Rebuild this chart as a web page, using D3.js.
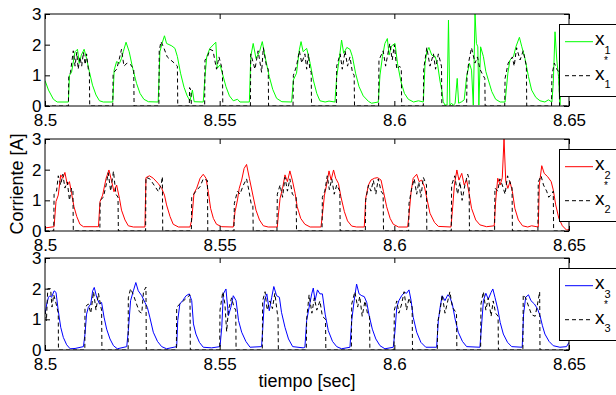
<!DOCTYPE html>
<html>
<head>
<meta charset="utf-8">
<script src="https://cdn.jsdelivr.net/npm/d3@7"></script>
<style>
  body { margin: 0; background: #fff; }
  svg { display: block; font-family: "Liberation Sans", Arial, sans-serif; }
</style>
</head>
<body>
<svg id="chart" width="616" height="395"></svg>
<script>
// measured phase currents (solid) and references (dashed), [time s, current A]
const x1 = [[8.5000,0.83],[8.5010,0.52],[8.5024,0.22],[8.5035,0.13],[8.5067,0.13],[8.5070,1.0],[8.5076,1.1],[8.5086,1.77],[8.5093,1.85],[8.5098,1.39],[8.5104,1.66],[8.5112,1.85],[8.5119,1.55],[8.5127,1.12],[8.5136,0.68],[8.5146,0.36],[8.5156,0.17],[8.5167,0.13],[8.5194,0.13],
  [8.5198,1.17],[8.5205,1.45],[8.5213,1.39],[8.5219,1.55],[8.5224,1.77],[8.5232,2.08],[8.5241,1.77],[8.5251,1.23],[8.5262,0.74],[8.5272,0.41],[8.5283,0.22],[8.5296,0.14],[8.5324,0.13],
  [8.5329,1.77],[8.5335,2.04],[8.5342,2.29],[8.5348,2.04],[8.5363,1.96],[8.5372,1.88],[8.5379,1.61],[8.5388,1.07],[8.5398,0.61],[8.5407,0.33],[8.5415,0.17],[8.5422,0.52],[8.5427,0.14],[8.5453,0.13],
  [8.5458,0.96],[8.5463,1.61],[8.5472,1.88],[8.5489,2.08],[8.5493,1.23],[8.5501,1.34],[8.5509,1.01],[8.5518,0.63],[8.5528,0.33],[8.5539,0.17],[8.5551,0.22],[8.5558,0.13],[8.5585,0.13],
  [8.5589,1.61],[8.5596,2.04],[8.5604,1.55],[8.5614,1.77],[8.5622,2.10],[8.5632,1.5],[8.5642,0.96],[8.5652,0.54],[8.5663,0.25],[8.5678,0.14],[8.5706,0.13],
  [8.5711,0.85],[8.5720,1.07],[8.5728,1.83],[8.5733,2.1],[8.5739,1.77],[8.5749,1.88],[8.5755,1.6],[8.5759,1.39],[8.5768,0.85],[8.5778,0.41],[8.5787,0.17],[8.5802,0.13],[8.5813,0.16],[8.5830,0.13],
  [8.5835,0.96],[8.5842,1.5],[8.5849,2.15],[8.5855,1.72],[8.5864,1.91],[8.5873,1.85],[8.5880,1.61],[8.5889,1.07],[8.5899,0.63],[8.5911,0.33],[8.5926,0.15],[8.5935,0.09],[8.5954,0.13],
  [8.5959,1.01],[8.5966,1.61],[8.5973,2.04],[8.5980,2.2],[8.5985,1.66],[8.5992,1.96],[8.6002,2.04],[8.6009,1.39],[8.6019,0.79],[8.6029,0.41],[8.6040,0.22],[8.6055,0.13],[8.6069,0.17],[8.6083,0.13],
  [8.6088,1.39],[8.6093,1.77],[8.6099,1.91],[8.6107,1.66],[8.6117,1.61],[8.6124,1.34],[8.6131,0.79],[8.6136,0.52],[8.6140,0.14],[8.6145,0.03],[8.6151,0.03],[8.6155,2.8],[8.6159,0.03],[8.6164,0.09],[8.6169,0.02],[8.6174,0.09],[8.6180,0.9],[8.6184,0.09],[8.6193,0.14],[8.6200,0.2],
  [8.6207,0.96],[8.6215,1.39],[8.6221,1.17],[8.6226,0.03],[8.6231,3.0],[8.6235,2.04],[8.6239,1.93],[8.6242,0.03],[8.6247,1.93],[8.6255,1.61],[8.6262,1.12],[8.6269,0.85],[8.6279,0.47],[8.6290,0.22],[8.6303,0.13],[8.6317,0.13],
  [8.6325,1.07],[8.6331,1.5],[8.6341,1.61],[8.6348,1.93],[8.6358,2.24],[8.6365,1.93],[8.6374,1.55],[8.6384,0.96],[8.6393,0.52],[8.6405,0.28],[8.6417,0.17],[8.6431,0.13],[8.6441,0.2],[8.6451,0.13],
  [8.6455,0.74],[8.6460,2.42],[8.6465,1.5],[8.6470,0.96],[8.6474,0.03],[8.6480,1.3],[8.6490,1.0],[8.6500,0.8]];

const x1ref = [[8.5000,0],[8.5067,0],[8.5068,0.95],[8.5073,1.1],[8.5081,1.8],[8.5086,1.3],[8.5091,1.75],[8.5095,1.2],[8.5100,1.6],[8.5105,1.3],[8.5110,1.75],[8.5115,1.35],[8.5119,1.7],[8.5124,1.2],[8.5127,1.1],[8.5128,0],
  [8.5194,0],[8.5195,1.07],[8.5205,1.2],[8.5212,1.5],[8.5219,1.85],[8.5226,1.3],[8.5235,1.4],[8.5245,1.35],[8.5254,1.2],[8.5255,0],
  [8.5326,0],[8.5327,1.8],[8.5332,2.1],[8.5340,1.9],[8.5350,1.6],[8.5360,1.5],[8.5370,1.4],[8.5379,1.3],[8.5380,0],[8.5413,0],[8.5414,0.6],[8.5418,0.5],[8.5419,0],
  [8.5457,0],[8.5458,1.5],[8.5465,1.6],[8.5472,1.85],[8.5481,1.8],[8.5491,1.2],[8.5498,1.6],[8.5505,1.3],[8.5508,1.1],[8.5509,0],
  [8.5588,0],[8.5589,1.7],[8.5601,1.2],[8.5610,1.8],[8.5620,1.1],[8.5625,1.9],[8.5634,1.3],[8.5639,1.2],[8.5640,0],
  [8.5710,0],[8.5711,1.0],[8.5720,1.3],[8.5728,1.8],[8.5735,1.4],[8.5744,1.7],[8.5749,1.2],[8.5754,1.7],[8.5758,1.2],[8.5762,1.1],[8.5763,0],
  [8.5834,0],[8.5835,1.3],[8.5845,1.7],[8.5851,1.2],[8.5859,1.8],[8.5866,1.3],[8.5873,1.6],[8.5880,1.1],[8.5885,1.0],[8.5886,0],
  [8.5955,0],[8.5956,1.5],[8.5968,1.8],[8.5975,1.3],[8.5987,2.04],[8.5994,1.5],[8.6000,2.0],[8.6007,1.2],[8.6015,1.3],[8.6020,1.2],[8.6021,0],
  [8.6083,0],[8.6084,1.2],[8.6093,1.9],[8.6102,1.3],[8.6112,1.7],[8.6118,1.2],[8.6126,1.7],[8.6135,1.3],[8.6136,0],
  [8.6207,0],[8.6208,1.0],[8.6214,1.5],[8.6221,1.9],[8.6231,1.4],[8.6238,1.6],[8.6245,1.2],[8.6254,1.0],[8.6259,0.9],[8.6260,0],
  [8.6316,0],[8.6317,0.9],[8.6326,1.4],[8.6338,1.6],[8.6343,1.3],[8.6350,1.9],[8.6360,1.5],[8.6369,1.8],[8.6378,1.3],[8.6379,0],
  [8.6450,0],[8.6451,1.0],[8.6458,1.4],[8.6465,1.2],[8.6472,1.1],[8.6473,0],[8.6500,0]];

const x2 = [[8.5000,0.1],[8.5026,0.14],[8.50315,0.96],[8.5038,1.17],[8.5045,1.83],[8.5051,1.72],[8.5057,1.91],[8.5064,1.5],[8.5070,1.61],[8.5076,1.23],[8.5083,0.79],[8.5091,0.47],[8.5100,0.22],[8.5110,0.14],[8.5153,0.14],
  [8.51575,0.96],[8.5165,1.17],[8.5175,1.72],[8.5183,1.99],[8.5191,1.61],[8.51975,1.28],[8.5205,1.5],[8.5213,1.07],[8.5219,0.68],[8.5229,0.36],[8.52385,0.17],[8.5253,0.13],[8.5286,0.13],
  [8.5289,1.74],[8.5299,1.8],[8.5310,1.72],[8.5324,1.55],[8.5334,1.39],[8.5342,1.17],[8.5348,0.85],[8.5358,0.47],[8.5367,0.22],[8.5382,0.13],[8.5415,0.13],
  [8.5420,0.36],[8.54265,1.23],[8.5434,1.39],[8.5444,1.72],[8.5453,1.85],[8.5461,1.72],[8.5468,1.23],[8.5474,0.74],[8.5482,0.41],[8.5491,0.22],[8.5506,0.14],[8.5539,0.13],
  [8.5544,0.63],[8.5551,1.01],[8.5556,1.39],[8.5563,1.66],[8.5570,2.04],[8.5577,2.17],[8.5585,1.72],[8.5595,1.17],[8.5604,0.68],[8.5614,0.36],[8.5625,0.17],[8.5639,0.13],[8.5665,0.13],
  [8.5668,0.52],[8.5673,1.07],[8.5680,1.39],[8.5687,1.83],[8.5694,1.61],[8.5701,1.96],[8.5708,1.66],[8.5716,1.23],[8.5722,0.79],[8.5732,0.41],[8.5744,0.22],[8.5759,0.13],[8.5790,0.13],
  [8.5794,0.52],[8.5800,1.17],[8.5806,1.5],[8.5813,1.96],[8.5819,1.66],[8.5826,1.99],[8.5832,1.72],[8.5840,1.55],[8.5847,1.12],[8.5857,0.63],[8.5866,0.33],[8.5878,0.16],[8.5892,0.13],[8.5914,0.13],
  [8.5918,1.07],[8.5926,1.5],[8.5933,1.66],[8.5943,1.72],[8.5952,1.74],[8.5962,1.66],[8.5969,1.28],[8.5978,0.79],[8.5988,0.41],[8.5997,0.22],[8.6012,0.13],[8.6038,0.13],
  [8.6042,0.52],[8.6048,1.28],[8.6054,1.72],[8.6064,1.85],[8.6071,1.61],[8.6078,1.66],[8.6086,1.45],[8.6093,1.07],[8.6102,0.58],[8.6115,0.28],[8.6126,0.15],[8.6162,0.13],
  [8.6166,0.63],[8.6172,1.5],[8.6179,1.99],[8.6185,1.66],[8.6193,1.88],[8.6200,1.5],[8.6207,1.66],[8.6214,1.23],[8.6221,0.74],[8.6233,0.36],[8.6245,0.2],[8.6264,0.14],[8.6286,0.17],
  [8.6290,0.96],[8.6296,1.72],[8.6303,1.5],[8.6309,1.74],[8.6314,3.0],[8.6319,1.61],[8.6325,1.39],[8.6331,1.61],[8.6338,1.28],[8.6345,0.74],[8.6355,0.36],[8.6367,0.17],[8.6382,0.13],[8.6393,0.17],[8.6412,0.13],
  [8.6415,1.5],[8.6422,2.13],[8.6429,1.88],[8.6439,1.77],[8.6449,1.61],[8.6455,1.34],[8.6462,0.85],[8.6471,0.41],[8.6481,0.17],[8.6493,0.03],[8.6500,0.05]];

const x2ref = [[8.5000,0],[8.5025,0],[8.5026,1.2],[8.5033,1.3],[8.5038,1.8],[8.5045,1.5],[8.5051,1.85],[8.5057,1.4],[8.5064,1.6],[8.5070,1.0],[8.5076,1.4],[8.5080,1.3],[8.5081,0],
  [8.5157,0],[8.5158,1.0],[8.5167,1.1],[8.5175,1.5],[8.5181,1.9],[8.5188,1.3],[8.5196,1.95],[8.5203,1.2],[8.5209,1.1],[8.5210,0],
  [8.5288,0],[8.5289,1.75],[8.5300,1.7],[8.5315,1.45],[8.5325,1.28],[8.5333,1.55],[8.5336,1.77],[8.5337,0],
  [8.5419,0],[8.5420,1.1],[8.5432,1.3],[8.5444,1.45],[8.5453,1.7],[8.5465,1.65],[8.5466,0],
  [8.5541,0],[8.5542,0.9],[8.5551,1.3],[8.5558,1.2],[8.5568,1.5],[8.5577,1.7],[8.5584,1.3],[8.5590,0.9],[8.5595,0.85],[8.5596,0],
  [8.5664,0],[8.5665,1.2],[8.5673,1.5],[8.5680,1.1],[8.5687,1.75],[8.5694,1.3],[8.5701,1.7],[8.5708,1.2],[8.5719,1.1],[8.5720,0],
  [8.5793,0],[8.5794,1.1],[8.5801,1.3],[8.5808,1.8],[8.5814,1.35],[8.5821,1.7],[8.5828,1.2],[8.5835,1.5],[8.5844,1.3],[8.5845,0],
  [8.5917,0],[8.5918,1.0],[8.5926,1.5],[8.5933,1.3],[8.5940,1.65],[8.5947,1.2],[8.5954,1.7],[8.5962,1.3],[8.5968,1.2],[8.5969,0],
  [8.6041,0],[8.6042,0.9],[8.6050,1.4],[8.6057,1.7],[8.6064,1.2],[8.6070,1.6],[8.6076,1.1],[8.6083,1.75],[8.6092,1.5],[8.6093,0],
  [8.6163,0],[8.6164,1.5],[8.6173,1.8],[8.6181,1.2],[8.6188,1.6],[8.6194,1.0],[8.6202,1.5],[8.6210,1.85],[8.6214,1.7],[8.6215,0],
  [8.6287,0],[8.6288,1.4],[8.6296,1.3],[8.6302,1.7],[8.6309,1.5],[8.6317,1.2],[8.6324,1.8],[8.6331,1.6],[8.6337,1.4],[8.6338,0],
  [8.6411,0],[8.6412,1.6],[8.6420,1.8],[8.6427,1.5],[8.6436,1.3],[8.6442,1.1],[8.6450,1.2],[8.6455,1.3],[8.6456,0],[8.6500,0]];

const x3 = [[8.5000,1.17],[8.5005,1.5],[8.5010,1.72],[8.5014,1.77],[8.5019,1.72],[8.5026,1.93],[8.50315,1.88],[8.5038,1.28],[8.5045,0.74],[8.50525,0.41],[8.5062,0.17],[8.5072,0.04],[8.5086,0.05],[8.5110,0.11],
  [8.51145,0.52],[8.5119,1.17],[8.5124,1.39],[8.5131,1.5],[8.51365,1.93],[8.5141,2.04],[8.5148,1.72],[8.5156,1.5],[8.5162,1.55],[8.5169,1.07],[8.51765,0.68],[8.5186,0.36],[8.5196,0.14],[8.5207,0.04],[8.5234,0.11],
  [8.52385,0.63],[8.5245,1.61],[8.5253,1.93],[8.5260,2.2],[8.5267,1.93],[8.5277,1.77],[8.5286,1.55],[8.5293,1.39],[8.5300,1.07],[8.5310,0.58],[8.5322,0.28],[8.5334,0.11],[8.5348,0.04],[8.5377,0.11],
  [8.5380,0.96],[8.5386,1.5],[8.5394,1.61],[8.5404,1.77],[8.5413,1.83],[8.5420,1.61],[8.5425,0.85],[8.5432,0.52],[8.5442,0.25],[8.5453,0.09],[8.5477,0.07],[8.5501,0.11],
  [8.5506,0.74],[8.55105,1.83],[8.5518,1.99],[8.5525,1.12],[8.5532,1.39],[8.5539,1.77],[8.5547,1.61],[8.5554,0.96],[8.5563,0.58],[8.5575,0.28],[8.5587,0.09],[8.5620,0.11],
  [8.5623,0.63],[8.5628,1.61],[8.5635,1.83],[8.5642,1.28],[8.5649,1.72],[8.5655,2.07],[8.5663,1.77],[8.5671,1.72],[8.5677,1.23],[8.5687,0.74],[8.5697,0.36],[8.5709,0.11],[8.5739,0.07],[8.5744,0.09],
  [8.5749,0.96],[8.5756,1.39],[8.57635,1.83],[8.5768,2.02],[8.5773,1.61],[8.5780,1.96],[8.5787,1.83],[8.5794,1.83],[8.5802,1.17],[8.5811,0.63],[8.5823,0.28],[8.5835,0.11],[8.5849,0.04],[8.5873,0.09],
  [8.5878,0.96],[8.5885,1.61],[8.5892,2.15],[8.5899,1.83],[8.5907,1.77],[8.5914,1.74],[8.5921,1.55],[8.5928,1.12],[8.5937,0.68],[8.5947,0.36],[8.5959,0.14],[8.5973,0.04],[8.5997,0.09],
  [8.6002,0.63],[8.6007,1.39],[8.6013,1.61],[8.6021,1.77],[8.6029,1.88],[8.6035,1.85],[8.6042,1.96],[8.6048,1.61],[8.6054,1.07],[8.6064,0.58],[8.6076,0.25],[8.6090,0.09],[8.6121,0.09],
  [8.6126,0.96],[8.6131,1.39],[8.6137,1.77],[8.6145,1.61],[8.6153,1.8],[8.6159,1.72],[8.6166,1.5],[8.6174,1.01],[8.6183,0.58],[8.6195,0.28],[8.6207,0.11],[8.6245,0.09],
  [8.6250,0.85],[8.6255,1.61],[8.6262,1.85],[8.6269,1.66],[8.6277,1.88],[8.6282,1.99],[8.6288,1.72],[8.6296,1.34],[8.6303,0.9],[8.6312,0.52],[8.6324,0.25],[8.6336,0.11],[8.6366,0.09],
  [8.6370,1.17],[8.6376,1.72],[8.6384,1.8],[8.6391,1.61],[8.6401,1.5],[8.6410,1.34],[8.6417,1.12],[8.6424,0.79],[8.6431,0.52],[8.6443,0.28],[8.6455,0.14],[8.6474,0.09],[8.6493,0.11],[8.6500,0.25]];

const x3ref = [[8.5000,1.3],[8.5004,0.95],[8.5008,2.0],[8.5016,2.0],[8.5020,1.4],[8.5025,1.8],[8.5032,1.5],[8.5038,1.2],[8.50385,0],
  [8.5114,0],[8.51145,1.4],[8.5124,1.5],[8.5131,1.2],[8.5139,1.9],[8.5146,1.3],[8.5153,1.85],[8.5160,1.4],[8.5162,1.3],[8.5163,0],
  [8.5238,0],[8.52385,1.7],[8.5245,2.0],[8.5253,1.8],[8.5262,1.5],[8.5270,1.25],[8.5277,1.2],[8.5282,1.9],[8.5289,2.05],[8.5290,0],
  [8.5376,0],[8.5377,1.4],[8.5386,1.5],[8.5396,1.6],[8.5406,1.7],[8.5415,1.8],[8.5416,0],
  [8.5500,0],[8.5501,1.3],[8.5509,1.9],[8.5515,1.5],[8.5520,0.6],[8.5525,1.3],[8.5534,1.7],[8.5541,1.4],[8.5546,1.3],[8.5547,0],
  [8.5622,0],[8.5623,1.6],[8.5630,1.9],[8.5636,1.3],[8.5644,1.6],[8.5651,1.35],[8.5658,1.85],[8.5665,1.2],[8.5667,1.1],[8.5668,0],
  [8.5748,0],[8.5749,1.0],[8.5756,1.8],[8.5764,1.2],[8.5771,1.7],[8.5778,1.3],[8.5787,1.6],[8.5794,1.1],[8.5803,1.0],[8.5804,0],
  [8.5877,0],[8.5878,1.5],[8.5887,1.9],[8.5895,1.4],[8.5901,1.75],[8.5908,1.1],[8.5916,1.6],[8.5923,1.2],[8.5929,1.1],[8.5930,0],
  [8.5999,0],[8.6000,1.3],[8.6007,1.6],[8.6013,1.2],[8.6021,1.5],[8.6028,1.9],[8.6035,1.3],[8.6042,1.7],[8.6051,1.4],[8.6052,0],
  [8.6123,0],[8.6124,0.9],[8.6131,1.3],[8.6137,1.8],[8.6145,1.2],[8.6153,1.6],[8.6159,1.9],[8.6166,1.4],[8.6178,1.2],[8.6179,0],
  [8.6247,0],[8.6248,1.5],[8.6255,1.9],[8.6262,1.3],[8.6269,1.7],[8.6277,1.1],[8.6283,1.6],[8.6290,1.2],[8.6297,1.1],[8.6298,0],
  [8.6368,0],[8.6369,1.8],[8.6376,1.7],[8.6385,1.4],[8.6393,1.15],[8.6403,1.1],[8.6410,1.5],[8.6416,1.9],[8.6417,0],[8.6500,0]];

const xTicks = [8.5, 8.55, 8.6, 8.65];
const xTickLabels = ["8.5", "8.55", "8.6", "8.65"];
const yTicks = [0, 1, 2, 3];
const phaseIds = ["1", "2", "3"];
const phaseColors = ["#00ff00", "#ff0000", "#0000ff"];

const measured = [x1, x2, x3];
const reference = [x1ref, x2ref, x3ref];

// layout
const left = 45, right = 569, panelH = 92;
const panelTops = [14, 139, 258];
const tickFont = 17, labelFont = 18;

const svg = d3.select("#chart");
const x = d3.scaleLinear().domain([8.5, 8.65]).range([left, right]);

panelTops.forEach((top, i) => {
  const y = d3.scaleLinear().domain([0, 3]).range([top + panelH, top]);
  const line = d3.line().x(d => x(d[0])).y(d => y(d[1]));

  svg.append("clipPath").attr("id", "clip" + i)
    .append("rect")
    .attr("x", left).attr("y", top)
    .attr("width", right - left).attr("height", panelH);

  const plot = svg.append("g").attr("clip-path", `url(#clip${i})`);

  plot.append("path")
    .datum(measured[i])
    .attr("fill", "none")
    .attr("stroke", phaseColors[i])
    .attr("stroke-width", 1)
    .attr("d", line);

  plot.append("path")
    .datum(reference[i])
    .attr("fill", "none")
    .attr("stroke", "#000")
    .attr("stroke-width", 1)
    .attr("stroke-dasharray", "4,3")
    .attr("d", line);

  // axes, matlab style: ticks pointing in on all four sides
  const bottom = svg.append("g")
    .attr("transform", `translate(0,${top + panelH})`)
    .call(d3.axisBottom(x).tickValues(xTicks).tickFormat((d, k) => xTickLabels[k]).tickSize(-5).tickSizeOuter(0).tickPadding(7.5));
  const topAx = svg.append("g")
    .attr("transform", `translate(0,${top})`)
    .call(d3.axisTop(x).tickValues(xTicks).tickFormat("").tickSize(-5).tickSizeOuter(0));
  const leftAx = svg.append("g")
    .attr("transform", `translate(${left},0)`)
    .call(d3.axisLeft(y).tickValues(yTicks).tickFormat(d3.format("d")).tickSize(-5).tickSizeOuter(0).tickPadding(3.5));
  const rightAx = svg.append("g")
    .attr("transform", `translate(${right},0)`)
    .call(d3.axisRight(y).tickValues(yTicks).tickFormat("").tickSize(-5).tickSizeOuter(0));

  [bottom, topAx, leftAx, rightAx].forEach(a => {
    a.attr("font-family", null).attr("font-size", tickFont);
    a.select(".domain").remove();
    a.selectAll("text").attr("fill", "#000");
    a.selectAll("line").attr("stroke", "#000");
  });

  svg.append("rect")
    .attr("x", left).attr("y", top)
    .attr("width", right - left).attr("height", panelH)
    .attr("fill", "none")
    .attr("stroke", "#000")
    .attr("stroke-width", 1);

  // legend box, runs off the right edge like the original
  const lg = svg.append("g").attr("transform", `translate(559,${top + 10})`);
  lg.append("rect")
    .attr("x", 0.5).attr("y", 0.5)
    .attr("width", 70).attr("height", 72)
    .attr("fill", "#fff")
    .attr("stroke", "#000");

  lg.append("line")
    .attr("x1", 6).attr("x2", 34).attr("y1", 17.7).attr("y2", 17.7)
    .attr("stroke", phaseColors[i]);
  const t1 = lg.append("text").attr("x", 36).attr("y", 21).attr("font-size", 19);
  t1.append("tspan").text("x");
  t1.append("tspan").attr("font-size", 11).attr("dy", 8.5).text(phaseIds[i]);

  lg.append("line")
    .attr("x1", 6).attr("x2", 34).attr("y1", 51.7).attr("y2", 51.7)
    .attr("stroke", "#000")
    .attr("stroke-dasharray", "4,3");
  lg.append("text").attr("x", 36).attr("y", 56).attr("font-size", 19).text("x");
  lg.append("text").attr("x", 45).attr("y", 40).attr("font-size", 10).text("*");
  lg.append("text").attr("x", 45.5).attr("y", 63.5).attr("font-size", 11).text(phaseIds[i]);
});

svg.append("text")
  .attr("transform", `translate(23,184) rotate(-90)`)
  .attr("text-anchor", "middle")
  .attr("font-size", labelFont)
  .text("Corriente [A]");

svg.append("text")
  .attr("x", (left + right) / 2)
  .attr("y", 387)
  .attr("text-anchor", "middle")
  .attr("font-size", labelFont)
  .text("tiempo [sec]");
</script>
</body>
</html>
